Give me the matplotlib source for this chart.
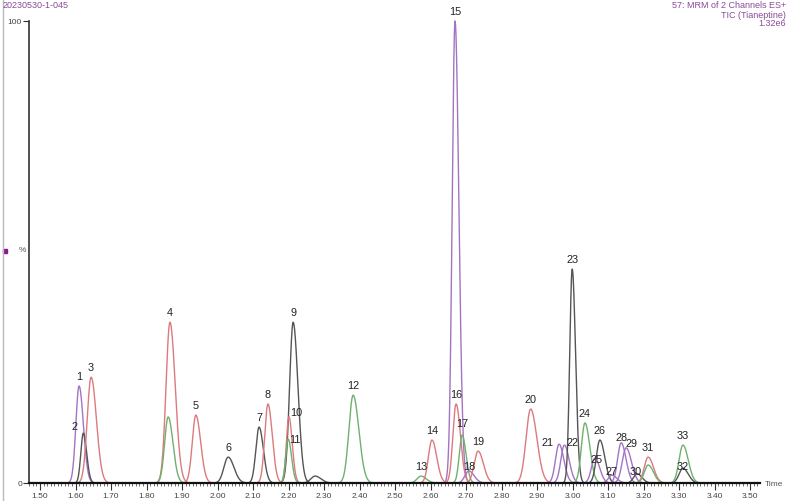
import numpy as np
import matplotlib
matplotlib.use("Agg")
import matplotlib.pyplot as plt
from matplotlib.lines import Line2D
from matplotlib.ticker import MultipleLocator

plt.rcParams['font.family'] = ['Liberation Sans', 'DejaVu Sans']

# ---- data ----
peak_labels = ["1", "2", "3", "4", "", "5", "6", "7", "8", "9", "10", "11", "",
               "12", "13", "14", "15", "16", "17", "18", "19", "20", "21", "22",
               "23", "24", "25", "26", "27", "28", "29", "30", "31", "", "32", "33"]
peak_times = [1.610, 1.622, 1.644, 1.866, 1.861, 1.939, 2.030, 2.117, 2.142, 2.213,
              2.201, 2.199, 2.275, 2.382, 2.573, 2.604, 2.669, 2.672, 2.689, 2.708,
              2.734, 2.882, 2.962, 2.977, 2.999, 3.035, 3.063, 3.077, 3.111, 3.137,
              3.151, 3.182, 3.213, 3.213, 3.311, 3.311]
peak_heights = [21.0, 10.8, 22.9, 34.8, 14.3, 14.7, 5.6, 12.1, 17.1, 34.8,
                14.3, 9.5, 1.5, 19.0, 1.5, 9.3, 100.0, 17.1, 10.4, 2.6,
                6.9, 16.0, 8.4, 8.2, 46.3, 13.0, 5.4, 9.3, 1.7, 8.7,
                7.6, 2.0, 5.6, 3.9, 3.2, 8.2]
peak_widths = [0.009, 0.007, 0.011, 0.011, 0.010, 0.010, 0.012, 0.009, 0.009, 0.010,
               0.007, 0.007, 0.012, 0.012, 0.011, 0.010, 0.008, 0.009, 0.008, 0.011,
               0.011, 0.013, 0.010, 0.010, 0.007, 0.010, 0.010, 0.010, 0.010, 0.010,
               0.011, 0.010, 0.011, 0.011, 0.011, 0.011]
peak_channels = ["purple", "dark", "red", "red", "green", "red", "dark", "dark", "red", "dark",
                 "red", "green", "dark", "green", "green", "red", "purple", "red", "green", "purple",
                 "red", "red", "purple", "purple", "dark", "green", "purple", "dark", "purple", "purple",
                 "purple", "dark", "red", "green", "dark", "green"]

channel_colors = {"purple": "#a374c4", "red": "#dc7a7e", "green": "#6fb06f", "dark": "#555555"}
label_offsets = {"2": (-6, -2), "10": (5, -4), "11": (5, -7), "17": (0, 1), "18": (0, -4),
                 "21": (-8, -6), "22": (6, -5), "25": (1, -8), "27": (0, -4), "28": (0, -3),
                 "29": (4, -4), "30": (-1, -5), "32": (0, -6), "1": (0, 0)}

# ---- figure ----
fig = plt.figure(figsize=(7.89, 5.01), dpi=100)
fig.patch.set_facecolor("white")
ax = fig.add_axes([29 / 789, 18 / 501, 731 / 789, 462 / 501])
ax.set_facecolor("white")

t = np.linspace(1.47, 3.528, 4000)
for lab, tc, h, w, ch in zip(peak_labels, peak_times, peak_heights, peak_widths, peak_channels):
    sig = np.where(t < tc, w, w * 1.35)
    y = h * np.exp(-0.5 * ((t - tc) / sig) ** 2)
    ax.plot(t, y, color=channel_colors[ch], lw=1.0, clip_on=False, zorder=2)
    if lab:
        dx, dy = label_offsets.get(lab, (0, 0))
        ax.annotate(lab, xy=(tc, h), xytext=(dx, 3 + dy), textcoords="offset points",
                    ha="center", va="bottom", fontsize=7.8, color="#222222")

ax.set_xlim(1.469, 3.528)
ax.set_ylim(0, 100)
for s in ["top", "right"]:
    ax.spines[s].set_visible(False)
ax.spines["bottom"].set_color("#111111")
ax.spines["bottom"].set_linewidth(1.6)
ax.spines["bottom"].set_zorder(3)
ax.spines["left"].set_color("#333333")
ax.spines["left"].set_linewidth(1.2)

major = [1.5 + 0.1 * i for i in range(21)]
ax.set_xticks(major)
ax.set_xticklabels([f"{v:.2f}" for v in major], fontsize=6, color="#444444")
ax.xaxis.set_minor_locator(MultipleLocator(0.01))
ax.tick_params(axis="x", which="major", length=5, width=0.8, pad=2, color="#333333")
ax.tick_params(axis="x", which="minor", length=2.5, width=0.6, color="#555555")
ax.set_yticks([0, 100])
ax.set_yticklabels(["0", "100"], fontsize=6, color="#444444")
ax.tick_params(axis="y", length=4, width=0.8, pad=1, color="#333333")

fig.text(765 / 789, 1 - 484 / 501, "Time", fontsize=6, color="#555555", ha="left", va="center")
fig.text(22 / 789, 1 - 251 / 501, "%", fontsize=6, color="#555555", ha="center", va="center")
fig.add_artist(Line2D([5 / 789], [1 - 251 / 501], marker="s", markersize=3.5,
                      color="#8b1a8b", linestyle="none"))
fig.add_artist(Line2D([3 / 789, 3 / 789], [0.0, 1.0], color="#bbbbbb", lw=1.0))

hdr = "#8a4a9a"
fig.text(3 / 789, 1 - 6 / 501, "20230530-1-045", fontsize=6.5, color=hdr, ha="left", va="center")
fig.text(786 / 789, 1 - 6 / 501, "57: MRM of 2 Channels ES+", fontsize=6.5, color=hdr, ha="right", va="center")
fig.text(786 / 789, 1 - 15 / 501, "TIC (Tianeptine)", fontsize=6.5, color=hdr, ha="right", va="center")
fig.text(786 / 789, 1 - 24 / 501, "1.32e6", fontsize=6.5, color=hdr, ha="right", va="center")

fig.savefig("out.png", dpi=100)
